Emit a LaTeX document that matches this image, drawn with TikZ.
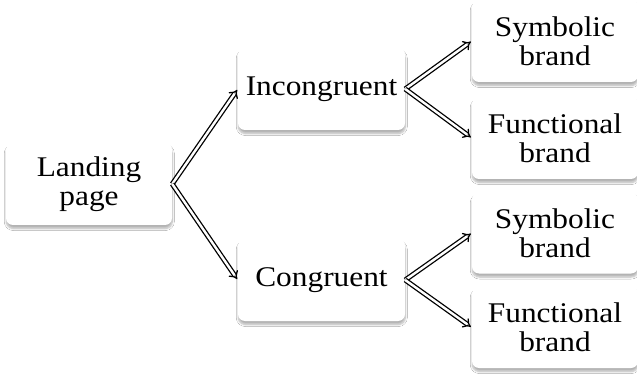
\documentclass[tikz,border=0pt]{standalone}
\usepackage{fontspec}
\setmainfont{Liberation Serif}[FakeStretch=1.1]
\usetikzlibrary{arrows.meta,shadows.blur}
\begin{document}
\begin{tikzpicture}[x=1pt,y=-1pt,
  box/.style={rectangle, rounded corners=7pt, fill=white, inner sep=0pt,
    align=center, font=\fontsize{28.5}{29}\selectfont,
    blur shadow={shadow xshift=0.3pt, shadow yshift=-3.5pt, shadow blur steps=6, shadow blur radius=2pt, shadow opacity=30}},
  conn/.style={draw=black, double=white, double distance=2.4pt, line width=1.3pt,
    -{Implies[scale=1.15]}, shorten >=1pt}
]
\useasboundingbox[fill=white] (0,0) rectangle (637,374);
\node[box, minimum width=166pt, minimum height=82pt] (land) at (89,184) {Landing\\page};
\node[box, minimum width=167pt, minimum height=82pt] (inc) at (321.5,89) {Incongruent};
\node[box, minimum width=167pt, minimum height=82pt] (con) at (321.5,280) {Congruent};
\node[box, minimum width=166pt, minimum height=82pt] (s1) at (555,41) {Symbolic\\brand};
\node[box, minimum width=166pt, minimum height=82pt] (f1) at (555,138) {Functional\\brand};
\node[box, minimum width=166pt, minimum height=81pt] (s2) at (555,233) {Symbolic\\brand};
\node[box, minimum width=166pt, minimum height=81pt] (f2) at (555,327.5) {Functional\\brand};
\draw[conn] (land.east) -- (inc.west);
\draw[conn] (land.east) -- (con.west);
\draw[conn] (inc.east) -- (s1.west);
\draw[conn] (inc.east) -- (f1.west);
\draw[conn] (con.east) -- (s2.west);
\draw[conn] (con.east) -- (f2.west);
\end{tikzpicture}
\end{document}
